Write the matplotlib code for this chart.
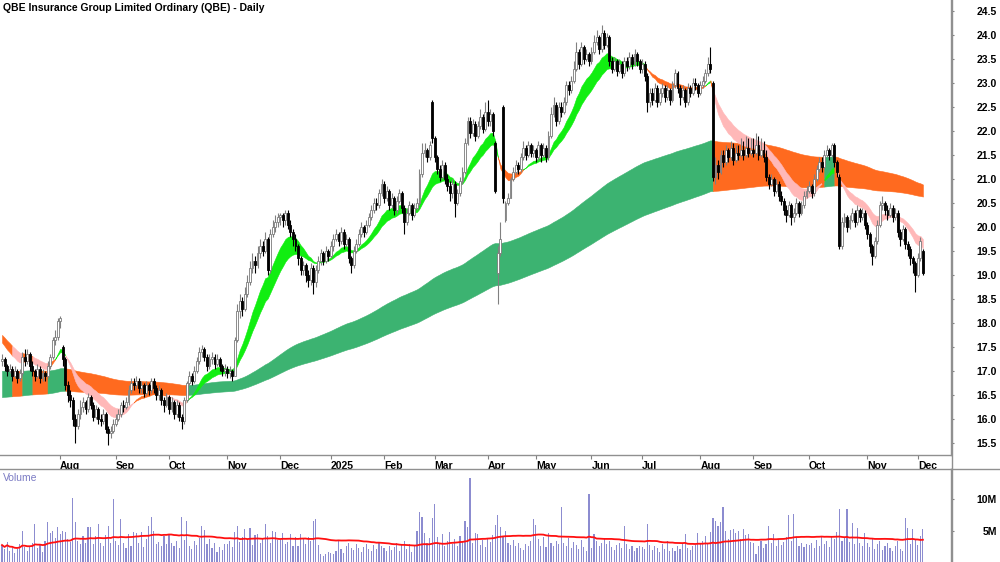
import numpy as np
import pandas as pd
import matplotlib
matplotlib.use('Agg')
import matplotlib.pyplot as plt
from matplotlib.transforms import ScaledTranslation

plt.rcParams['font.family'] = ['Liberation Sans', 'DejaVu Sans']

# ASX trading days Jul 2024 - 3 Dec 2025
holidays = ['2024-12-25', '2024-12-26', '2025-01-01', '2025-01-27',
            '2025-04-18', '2025-04-21', '2025-04-25', '2025-06-09']

# daily closes (one line per month)
close = [
    17.25, 17.1, 17.0, 17.05, 16.9, 17.0, 16.85, 16.95, 17.3, 17.2, 17.35, 17.1, 17.0, 16.9, 17.05, 16.85, 16.95, 16.9, 17.1, 17.3, 17.65, 17.7, 18.05,
    18.1, 17.25, 16.7, 16.5, 16.4, 16.0, 15.85, 16.1, 16.25, 16.35, 16.2, 16.45, 16.3, 16.05, 16.2, 16.0, 15.95, 16.1, 15.8, 15.7, 15.75, 15.9,
    16.0, 16.1, 16.3, 16.25, 16.35, 16.6, 16.75, 16.7, 16.8, 16.65, 16.7, 16.55, 16.7, 16.6, 16.8, 16.65, 16.5, 16.6, 16.4, 16.3, 16.45,
    16.2, 16.35, 16.1, 16.3, 16.05, 15.95, 16.4, 16.75, 16.9, 16.8, 17.0, 17.2, 17.4, 17.45, 17.3, 17.1, 17.25, 17.3, 17.15, 17.25, 17.1, 17.0, 17.05,
    16.95, 17.0, 16.9, 17.65, 18.25, 18.45, 18.3, 18.6, 18.85, 19.15, 19.3, 19.2, 19.45, 19.6, 19.5, 19.75, 19.1, 19.85, 20.0, 20.1, 20.2,
    20.25, 20.15, 20.3, 20.05, 19.9, 19.75, 19.6, 19.35, 19.1, 19.2, 19.0, 18.9, 19.15, 18.85, 19.1, 19.3, 19.45, 19.3, 19.5, 19.4,
    19.6, 19.75, 19.85, 19.7, 19.9, 19.65, 19.75, 19.35, 19.2, 19.5, 19.65, 19.85, 20.0, 19.9, 20.05, 20.2, 20.35, 20.5, 20.45, 20.7, 20.9,
    20.6, 20.75, 20.45, 20.6, 20.35, 20.55, 20.7, 20.4, 20.1, 20.3, 20.45, 20.25, 20.4, 20.5, 21.1, 21.55, 21.6, 21.45, 21.7, 21.85,
    21.45, 21.2, 21.05, 21.3, 21.0, 20.85, 20.7, 20.9, 20.5, 20.7, 20.95, 21.15, 21.75, 22.2, 21.95, 22.15, 21.9, 22.1, 22.3, 22.05, 22.4,
    22.2, 22.35, 22.0, 20.75, 19.45, 19.75, 20.6, 20.5, 20.6, 21.0, 21.15, 21.3, 21.2, 21.45, 21.65, 21.5, 21.7, 21.55, 21.6,
    21.45, 21.7, 21.5, 21.65, 21.45, 21.9, 22.35, 22.55, 22.2, 22.5, 22.4, 22.6, 22.95, 22.85, 23.05, 23.3, 23.65, 23.4, 23.75, 23.5, 23.6, 23.45,
    23.65, 23.85, 23.95, 23.7, 24.05, 23.8, 23.95, 23.45, 23.3, 23.45, 23.25, 23.4, 23.2, 23.45, 23.35, 23.55, 23.4, 23.6, 23.45, 23.3,
    23.4, 23.15, 22.6, 22.8, 22.65, 22.9, 22.6, 22.8, 22.9, 22.7, 22.85, 22.65, 22.95, 23.2, 22.9, 22.7, 22.85, 22.6, 22.9, 22.8, 23.0, 22.95, 22.8,
    22.95, 23.05, 23.2, 23.4, 23.3, 21.05, 21.3, 21.15, 21.5, 21.35, 21.6, 21.45, 21.65, 21.4, 21.55, 21.5, 21.6, 21.5, 21.65, 21.55, 21.6,
    21.55, 21.7, 21.5, 21.6, 21.45, 21.05, 20.9, 21.0, 20.75, 20.9, 20.65, 20.55, 20.35, 20.25, 20.45, 20.2, 20.3, 20.5, 20.3, 20.45, 20.65, 20.75,
    20.85, 20.7, 21.0, 21.2, 21.35, 21.25, 21.5, 21.6, 21.5, 21.7, 21.35, 21.15, 19.6, 20.1, 20.2, 20.0, 20.15, 20.3, 20.1, 20.35, 20.2, 20.3, 20.05,
    19.85, 19.6, 19.4, 19.7, 20.05, 20.45, 20.5, 20.35, 20.25, 20.4, 20.2, 20.3, 19.9, 19.75, 19.95, 19.65, 19.55, 19.35, 19.25, 19.0,
    19.35, 19.7, 19.05,
]

high = [
    17.35, 17.3, 17.15, 17.15, 17.1, 17.1, 17.05, 17.05, 17.4, 17.45, 17.45, 17.4, 17.2, 17.05, 17.15, 17.1, 17.05, 17.0, 17.2, 17.35, 17.7, 17.85, 18.1,
    18.15, 17.55, 17.3, 16.8, 16.6, 16.45, 16.1, 16.2, 16.4, 16.45, 16.4, 16.55, 16.5, 16.35, 16.3, 16.25, 16.1, 16.2, 16.15, 15.85, 15.85, 16.0,
    16.1, 16.2, 16.35, 16.4, 16.45, 16.7, 16.85, 16.85, 16.9, 16.85, 16.8, 16.75, 16.8, 16.75, 16.85, 16.85, 16.7, 16.7, 16.65, 16.45, 16.55,
    16.5, 16.45, 16.4, 16.4, 16.35, 16.1, 16.45, 16.8, 17.0, 16.95, 17.1, 17.3, 17.5, 17.55, 17.5, 17.35, 17.35, 17.4, 17.35, 17.35, 17.3, 17.15, 17.15,
    17.1, 17.1, 17.05, 17.7, 18.4, 18.6, 18.55, 18.75, 19.0, 19.3, 19.45, 19.4, 19.6, 19.75, 19.7, 19.9, 19.8, 19.95, 20.15, 20.25, 20.3,
    20.3, 20.3, 20.35, 20.35, 20.15, 19.95, 19.85, 19.65, 19.4, 19.3, 19.25, 19.1, 19.25, 19.2, 19.2, 19.4, 19.55, 19.5, 19.6, 19.55,
    19.7, 19.85, 19.95, 19.9, 20.0, 19.95, 19.85, 19.8, 19.4, 19.6, 19.75, 19.95, 20.1, 20.05, 20.15, 20.3, 20.45, 20.6, 20.6, 20.8, 21.0,
    20.95, 20.85, 20.8, 20.7, 20.65, 20.65, 20.8, 20.75, 20.45, 20.4, 20.55, 20.5, 20.5, 20.6, 21.2, 21.75, 21.75, 21.65, 21.8, 22.65,
    21.9, 21.5, 21.3, 21.4, 21.35, 21.1, 20.95, 21.0, 20.95, 20.8, 21.05, 21.25, 21.85, 22.3, 22.3, 22.25, 22.2, 22.2, 22.45, 22.35, 22.6,
    22.65, 22.45, 22.4, 21.8, 19.6, 20.1, 22.55, 20.55, 20.7, 21.05, 21.25, 21.4, 21.35, 21.55, 21.8, 21.7, 21.8, 21.75, 21.7,
    21.65, 21.8, 21.75, 21.75, 21.7, 22.0, 22.5, 22.7, 22.6, 22.6, 22.6, 22.7, 23.05, 23.05, 23.15, 23.45, 23.85, 23.7, 23.85, 23.8, 23.7, 23.65,
    23.75, 24.0, 24.1, 24.0, 24.2, 24.1, 24.05, 24.0, 23.55, 23.55, 23.5, 23.5, 23.45, 23.55, 23.55, 23.65, 23.6, 23.7, 23.65, 23.5,
    23.5, 23.45, 23.2, 22.9, 22.9, 23.0, 22.95, 22.9, 23.0, 22.95, 22.95, 22.9, 23.05, 23.3, 23.25, 22.95, 22.95, 22.9, 23.0, 22.95, 23.1, 23.1, 23.0,
    23.05, 23.15, 23.3, 23.55, 23.75, 23.05, 21.45, 21.4, 21.6, 21.6, 21.7, 21.65, 21.8, 21.75, 21.7, 21.7, 21.85, 21.8, 21.9, 21.85, 21.85,
    21.85, 21.95, 21.9, 21.85, 21.8, 21.6, 21.1, 21.1, 21.05, 21.0, 20.95, 20.75, 20.6, 20.45, 20.55, 20.5, 20.4, 20.6, 20.55, 20.55, 20.75, 20.85,
    20.95, 20.9, 21.1, 21.3, 21.45, 21.45, 21.6, 21.7, 21.65, 21.75, 21.75, 21.4, 21.1, 20.2, 20.3, 20.25, 20.25, 20.4, 20.35, 20.45, 20.4, 20.4, 20.35,
    20.1, 19.9, 19.65, 19.8, 20.15, 20.55, 20.65, 20.55, 20.45, 20.5, 20.45, 20.4, 20.35, 19.95, 20.05, 20.0, 19.7, 19.6, 19.4, 19.3,
    19.45, 19.8, 19.55,
]

low = [
    17.1, 17.0, 16.9, 16.95, 16.8, 16.85, 16.75, 16.8, 16.9, 17.1, 17.15, 17.0, 16.9, 16.8, 16.85, 16.75, 16.8, 16.8, 16.85, 17.05, 17.25, 17.55, 17.65,
    17.9, 17.1, 16.6, 16.35, 16.25, 15.85, 15.5, 15.8, 16.0, 16.15, 16.1, 16.15, 16.2, 15.95, 16.0, 15.9, 15.85, 15.9, 15.7, 15.45, 15.6, 15.7,
    15.85, 15.95, 16.05, 16.15, 16.2, 16.3, 16.55, 16.6, 16.65, 16.55, 16.55, 16.45, 16.5, 16.5, 16.55, 16.55, 16.4, 16.4, 16.3, 16.15, 16.25,
    16.1, 16.15, 16.0, 16.05, 15.95, 15.8, 15.9, 16.35, 16.7, 16.7, 16.75, 16.95, 17.15, 17.3, 17.2, 17.0, 17.05, 17.15, 17.05, 17.1, 17.0, 16.9, 16.9,
    16.85, 16.85, 16.8, 16.9, 17.6, 18.1, 18.15, 18.25, 18.55, 18.8, 19.05, 19.05, 19.15, 19.35, 19.4, 19.45, 19.0, 19.05, 19.8, 19.9, 20.0,
    20.05, 20.0, 20.05, 19.95, 19.8, 19.6, 19.5, 19.2, 19.0, 19.0, 18.85, 18.75, 18.8, 18.6, 18.75, 19.05, 19.2, 19.2, 19.25, 19.3,
    19.35, 19.5, 19.7, 19.6, 19.65, 19.55, 19.6, 19.25, 19.05, 19.15, 19.45, 19.6, 19.8, 19.8, 19.85, 20.0, 20.15, 20.3, 20.35, 20.4, 20.65,
    20.5, 20.55, 20.35, 20.4, 20.25, 20.3, 20.5, 20.3, 19.85, 20.05, 20.25, 20.15, 20.2, 20.35, 20.45, 21.05, 21.45, 21.35, 21.4, 21.75,
    21.35, 21.1, 20.95, 21.0, 20.9, 20.75, 20.55, 20.6, 20.2, 20.45, 20.65, 20.9, 21.1, 21.7, 21.85, 21.9, 21.8, 21.85, 22.05, 21.95, 22.0,
    22.1, 22.1, 21.9, 20.7, 18.4, 19.4, 20.5, 20.1, 20.45, 20.6, 20.95, 21.1, 21.1, 21.15, 21.4, 21.4, 21.45, 21.45, 21.45,
    21.35, 21.4, 21.35, 21.45, 21.35, 21.4, 21.85, 22.3, 22.1, 22.15, 22.3, 22.35, 22.55, 22.75, 22.8, 23.0, 23.25, 23.3, 23.35, 23.4, 23.45, 23.35,
    23.4, 23.6, 23.8, 23.6, 23.65, 23.7, 23.75, 23.35, 23.2, 23.25, 23.15, 23.2, 23.1, 23.15, 23.25, 23.3, 23.3, 23.35, 23.35, 23.2,
    23.2, 23.05, 22.4, 22.5, 22.55, 22.6, 22.5, 22.55, 22.7, 22.6, 22.65, 22.55, 22.6, 22.9, 22.8, 22.55, 22.65, 22.5, 22.55, 22.7, 22.75, 22.85, 22.7,
    22.75, 22.9, 23.0, 23.15, 23.2, 20.95, 20.9, 21.0, 21.1, 21.25, 21.3, 21.35, 21.4, 21.3, 21.35, 21.4, 21.45, 21.4, 21.45, 21.45, 21.5,
    21.45, 21.5, 21.4, 21.45, 21.35, 20.95, 20.8, 20.85, 20.65, 20.7, 20.55, 20.45, 20.25, 20.1, 20.2, 20.05, 20.1, 20.25, 20.2, 20.25, 20.4, 20.6,
    20.7, 20.6, 20.65, 20.95, 21.15, 21.15, 21.2, 21.45, 21.4, 21.45, 21.25, 21.05, 19.55, 19.55, 20.0, 19.9, 19.95, 20.1, 20.0, 20.05, 20.1, 20.15, 19.95,
    19.75, 19.45, 19.2, 19.35, 19.65, 20.0, 20.35, 20.25, 20.15, 20.2, 20.1, 20.15, 19.8, 19.6, 19.7, 19.55, 19.4, 19.2, 19.05, 18.65,
    18.95, 19.3, 19.0,
]

# opens equal the prior close except on these gap days
first_open = 17.2
open_gap = {24: 17.5, 170: 22.6, 195: 21.75, 196: 19.05, 198: 22.5, 199: 20.15,
            281: 23.0, 331: 21.05, 364: 19.5}

# daily volume, millions
volume = [
    2.7, 2.1, 3.2, 1.8, 2.3, 1.5, 2.0, 2.9, 5.0, 2.4, 1.7, 2.5, 3.1, 6.0, 2.2, 2.8, 1.6, 3.4, 6.4, 4.6, 4.9, 3.8, 5.5,
    4.4, 5.0, 4.8, 3.6, 3.2, 10.2, 6.4, 3.4, 2.8, 4.1, 3.0, 5.5, 5.6, 2.9, 4.2, 6.1, 3.1, 2.6, 4.3, 5.8, 3.0, 10.0,
    3.3, 2.7, 6.9, 3.0, 2.2, 4.4, 2.6, 4.7, 4.6, 3.1, 4.8, 2.4, 3.6, 5.8, 7.2, 4.9, 2.8, 3.2, 2.5, 4.1, 2.9,
    4.5, 3.0, 2.6, 3.4, 2.2, 7.2, 3.5, 6.6, 2.5, 2.0, 3.3, 2.7, 3.8, 5.8, 5.1, 2.9, 3.6, 2.2, 3.0, 1.6, 2.4, 1.9, 2.8,
    2.9, 3.3, 2.4, 4.7, 5.7, 3.2, 4.0, 5.3, 3.6, 5.4, 2.7, 4.3, 4.5, 3.0, 3.6, 6.1, 4.2, 3.1, 5.0, 4.8, 3.5,
    3.5, 4.6, 2.8, 3.2, 4.4, 2.6, 3.9, 2.5, 4.5, 3.7, 2.9, 4.0, 3.3, 6.6, 6.9, 2.7, 1.2, 1.0, 1.3, 1.6,
    1.4, 1.2, 1.8, 3.4, 2.0, 1.5, 2.6, 3.1, 2.2, 1.9, 2.8, 2.3, 1.6, 2.4, 2.9, 2.1, 1.8, 2.7, 2.0, 3.0, 2.5,
    2.2, 1.7, 2.6, 1.9, 2.4, 3.1, 1.8, 2.7, 3.3, 2.1, 2.9, 1.6, 2.5, 5.0, 7.9, 7.2, 4.6, 3.0, 3.8, 7.0,
    9.2, 4.0, 3.1, 4.5, 2.6, 3.4, 4.8, 2.9, 3.6, 2.5, 4.1, 3.2, 6.6, 5.5, 13.4, 3.0, 4.6, 4.4, 2.7, 3.5, 2.4,
    3.8, 3.2, 4.3, 5.9, 7.5, 5.6, 4.2, 5.0, 3.1, 2.7, 3.5, 2.6, 3.0, 2.2, 1.9, 2.8, 2.5, 3.3, 6.9,
    5.9, 3.7, 2.6, 3.9, 2.4, 4.6, 3.0, 2.5, 3.4, 2.8, 8.7, 3.1, 2.6, 3.8, 2.2, 3.2, 2.7, 2.1, 3.5, 2.4, 1.8, 10.8,
    2.3, 4.5, 3.4, 2.6, 3.0, 3.6, 2.8, 3.3, 2.4, 1.9, 2.7, 3.1, 2.2, 5.8, 2.9, 2.0, 2.5, 1.8, 2.3, 2.6,
    2.4, 2.0, 6.1, 2.7, 1.9, 2.5, 2.2, 1.6, 2.8, 2.1, 3.4, 1.8, 2.3, 1.7, 2.6, 2.0, 2.9, 4.4, 2.2, 1.9, 2.5, 2.7, 4.6,
    2.8, 3.3, 4.1, 2.9, 4.7, 7.0, 6.5, 5.8, 6.3, 8.8, 4.9, 3.6, 5.1, 5.3, 4.6, 5.0, 3.7, 5.2, 4.3, 4.5, 3.2,
    3.0, 1.2, 2.6, 3.4, 2.3, 2.9, 5.8, 3.1, 4.4, 2.5, 3.6, 2.7, 3.2, 4.0, 7.5, 3.3, 7.7, 3.8, 2.6, 3.0, 2.4, 2.8,
    2.7, 3.1, 2.3, 3.5, 2.6, 4.1, 2.9, 3.3, 2.4, 4.0, 3.6, 4.8, 8.5, 3.4, 3.9, 8.5, 3.2, 6.2, 2.9, 5.4, 3.0, 2.6, 4.6,
    3.1, 2.4, 3.6, 2.0, 2.8, 3.3, 1.9, 2.6, 3.0, 2.2, 1.7, 2.5, 3.4, 2.1, 1.8, 7.0, 5.4, 2.9, 5.3, 3.6,
    2.7, 4.2, 5.3,
]

# band values at the left edge of the chart (EMA start values)
short_seed = (17.65, 17.8)
long_seed = (17.0, 16.45)
short_spans = (13, 22)
long_spans = (150, 250)

price_ticks = np.arange(15.5, 24.51, 0.5)
vol_ticks = [5, 10]
vol_tick_labels = ['5M', '10M']

GREEN = '#11ee11'
DKGREEN = '#3cb371'
ORANGE = '#ff6a1f'
PINK = '#ffb8b8'


def ema(values, span, seed):
    a = 2.0 / (span + 1)
    out = np.empty(len(values))
    e = seed
    for i, v in enumerate(values):
        e = e + a * (v - e)
        out[i] = e
    return out


def fill_runs(ax, x, y1, y2, colors, z):
    n = len(x)
    start = 0
    for i in range(1, n + 1):
        if i == n or colors[i] != colors[start]:
            a = max(start - 1, 0)
            ax.fill_between(x[a:i], y1[a:i], y2[a:i], color=colors[start],
                            lw=0.4, edgecolor=colors[start], zorder=z)
            start = i


c = np.array(close)
n = len(c)
o = np.r_[first_open, c[:-1]]
for k, v in open_gap.items():
    o[k] = v
h = np.maximum(np.array(high), np.maximum(o, c))
l = np.minimum(np.array(low), np.minimum(o, c))
vol = np.array(volume)
x = np.arange(n)

days = pd.bdate_range('2024-07-01', '2025-12-31')
days = days[~days.isin(pd.to_datetime(holidays))][:n]

# month ticks at the first trading day of each month
month_pos, month_lab = [], []
for i in range(1, n):
    if days[i].month != days[i - 1].month:
        month_pos.append(i)
        month_lab.append(str(days[i].year) if days[i].month == 1 else days[i].strftime('%b'))

# bands
s_fast = ema(c, short_spans[0], short_seed[0])
s_slow = ema(c, short_spans[1], short_seed[1])
l_fast = ema(c, long_spans[0], long_seed[0])
l_slow = ema(c, long_spans[1], long_seed[1])
long_top = np.maximum(l_fast, l_slow)

# long band state flips after two closes on the other side of its top edge
above = c > long_top
long_up = np.zeros(n, dtype=bool)
state = above[0]
for i in range(n):
    if i > 0 and above[i] == above[i - 1]:
        state = above[i]
    long_up[i] = state

long_col = np.where(long_up, DKGREEN, ORANGE)
short_col = np.where((s_fast > s_slow) & long_up, GREEN,
                     np.where((s_fast < s_slow) & ~long_up, PINK, ORANGE))

fig = plt.figure(figsize=(10, 5.62), dpi=100)
ax = fig.add_axes([0, 107 / 562, 0.951, 455 / 562])
axv = fig.add_axes([0, 0, 0.951, 93 / 562])

fill_runs(ax, x, l_fast, l_slow, long_col, 1)
fill_runs(ax, x, s_fast, s_slow, short_col, 2)

up = c >= o
body_lo = np.minimum(o, c)
body_h = np.maximum(np.abs(c - o), 0.02)
ax.vlines(x[up], l[up], h[up], color='#808080', lw=0.8, zorder=3)
ax.vlines(x[~up], l[~up], h[~up], color='black', lw=0.8, zorder=3)
ax.bar(x[up], body_h[up], 0.75, bottom=body_lo[up], color='white',
       edgecolor='#7a7a7a', lw=0.6, zorder=4)
ax.bar(x[~up], body_h[~up], 0.75, bottom=body_lo[~up], color='black',
       edgecolor='black', lw=0.6, zorder=4)

ax.set_xlim(-0.8, 375.1)
ax.set_ylim(15.25, 24.73)
ax.yaxis.tick_right()
ax.set_yticks(price_ticks)
ax.set_yticklabels([f'{v:.1f}' for v in price_ticks], fontsize=7.5, fontweight='bold')
for t in ax.get_yticklabels():
    t.set_ha('right')
ax.tick_params(axis='y', direction='out', length=2, color='#808080', pad=31)
ax.set_xticks(month_pos)
ax.set_xticklabels(month_lab, fontsize=7.5, fontweight='bold')
off = ScaledTranslation(1.5 / 72, 0, fig.dpi_scale_trans)
for t in ax.get_xticklabels():
    t.set_ha('left')
    t.set_transform(t.get_transform() + off)
ax.tick_params(axis='x', direction='out', length=3, color='#808080', pad=1)
for s in ['top', 'left']:
    ax.spines[s].set_visible(False)
for s in ['right', 'bottom']:
    ax.spines[s].set_color('#909090')
    ax.spines[s].set_linewidth(1.0)
ax.text(0.003, 1 - 3 / 455, 'QBE Insurance Group Limited Ordinary (QBE) - Daily',
        transform=ax.transAxes, ha='left', va='top', fontsize=7.5, fontweight='bold')

# volume panel
vol_ma = pd.Series(vol).rolling(50, min_periods=1).mean().values
axv.bar(x, vol, 0.45, color='#8c8cd0', zorder=2)
axv.plot(x, vol_ma, color='#ff1010', lw=1.3, zorder=3)
axv.set_xlim(-0.8, 375.1)
axv.set_ylim(0, 14.8)
axv.yaxis.tick_right()
axv.set_yticks(vol_ticks)
axv.set_yticklabels(vol_tick_labels, fontsize=7.5, fontweight='bold')
for t in axv.get_yticklabels():
    t.set_ha('right')
axv.tick_params(axis='y', direction='out', length=2, color='#808080', pad=31)
axv.set_xticks([])
for s in ['bottom', 'left']:
    axv.spines[s].set_visible(False)
for s in ['top', 'right']:
    axv.spines[s].set_color('#909090')
    axv.spines[s].set_linewidth(1.0)
axv.text(0.003, 0.9, 'Volume', transform=axv.transAxes, ha='left', va='center',
         fontsize=7.5, color='#7b7bc4')

fig.add_artist(plt.Line2D([0.9515, 0.9515], [0, 1], color='#909090', lw=1.0))
fig.add_artist(plt.Line2D([0.951, 1], [93 / 562, 93 / 562], color='#909090', lw=1.0))

fig.savefig('out.png', dpi=100)
